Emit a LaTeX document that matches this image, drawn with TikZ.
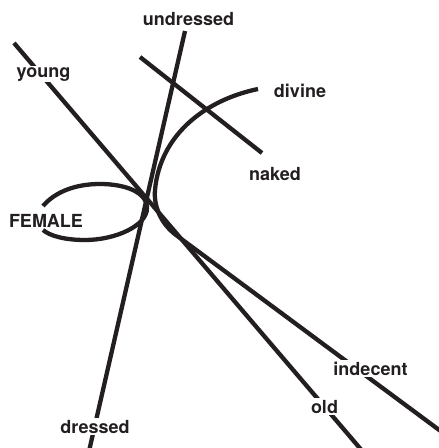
\documentclass[tikz,border=0pt]{standalone}
\usepackage{fontspec}
\setmainfont{TeX Gyre Heros}
\definecolor{ink}{RGB}{35,31,32}
\begin{document}
\begin{tikzpicture}[x=1pt,y=-1pt,
  strand/.style={draw=ink, line width=4.3pt},
  lbl/.style={font=\fontsize{18}{20}\selectfont\bfseries, text=ink, anchor=base, inner sep=1.5pt},
  occl/.style={lbl, fill=white}]
\clip (0,0) rectangle (439,448);
\fill[white] (0,0) rectangle (439,448);
% end points
\coordinate (youngA) at (14,43);
\coordinate (oldB) at (370,460);
\coordinate (undA) at (185,31);
\coordinate (dressB) at (87,460);
\coordinate (nakedA) at (140,57);
\coordinate (nakedB) at (262,153);
\coordinate (divA) at (258,89);
\coordinate (divL) at (155,190);
\coordinate (divT) at (176,235);
\coordinate (indB) at (450,438);
\coordinate (femT) at (43,206);
\coordinate (femB) at (43,230);
% strands
\draw[strand] (youngA) -- (oldB);
\draw[strand] (undA) -- (dressB);
\draw[strand] (nakedA) -- (nakedB);
\draw[strand] (divA) .. controls (205,100) and (160,135) .. (divL)
  .. controls (153.6,205) and (160,223) .. (divT) -- (indB);
\draw[strand] (femT) .. controls (55,192) and (75,184) .. (100,184)
  .. controls (125,184) and (147,192) .. (147,208)
  .. controls (147,226) and (115,240) .. (85,240)
  .. controls (65,240) and (50,236) .. (femB);
% labels
\node[lbl] (undressed) at (188.5,25) {undressed};
\node[occl] (young) at (43.5,77) {young};
\node[lbl] (divine) at (300,97) {divine};
\node[lbl] (naked) at (275,180) {naked};
\node[lbl] (female) at (46,227) {FEMALE};
\node[occl] (dressed) at (95,433) {dressed};
\node[occl] (indecent) at (370.5,375) {indecent};
\node[occl] (old) at (324.5,413) {old};
\end{tikzpicture}
\end{document}
